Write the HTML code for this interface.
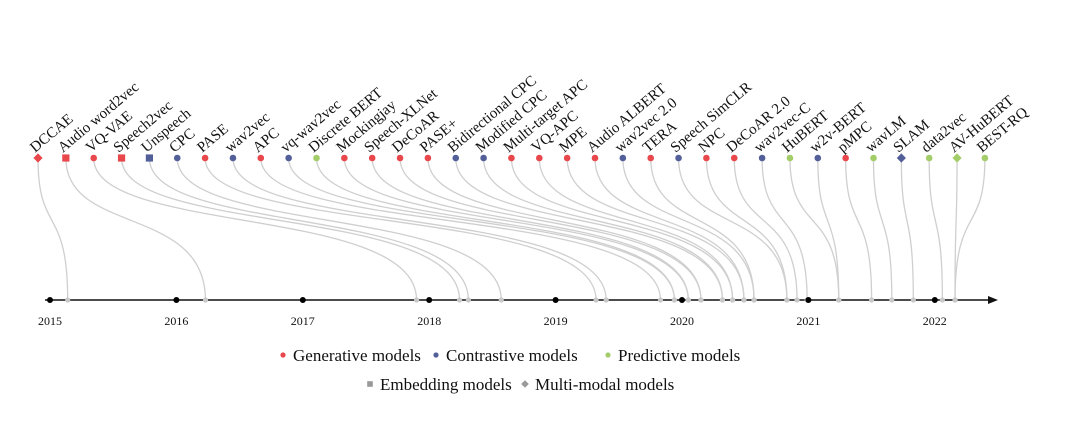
<!DOCTYPE html>
<html><head><meta charset="utf-8">
<style>
html,body{margin:0;padding:0;background:#fff;}
svg{display:block;font-family:"Liberation Serif",serif;}
</style></head>
<body>
<svg id="chart" width="1080" height="422" viewBox="0 0 1080 422" xmlns="http://www.w3.org/2000/svg">
<g id="links"></g>
<g id="axis"></g>
<g id="models"></g>
<g id="legend"></g>
</svg>
<script>
const modelNames = ["DCCAE","Audio word2vec","VQ-VAE","Speech2vec","Unspeech","CPC","PASE","wav2vec","APC","vq-wav2vec","Discrete BERT","Mockingjay","Speech-XLNet","DeCoAR","PASE+","Bidirectional CPC","Modified CPC","Multi-target APC","VQ-APC","MPE","Audio ALBERT","wav2vec 2.0","TERA","Speech SimCLR","NPC","DeCoAR 2.0","wav2vec-C","HuBERT","w2v-BERT","pMPC","wavLM","SLAM","data2vec","AV-HuBERT","BEST-RQ"];
const modelTypes = ["gen","gen","gen","gen","con","con","gen","con","gen","con","pred","gen","gen","gen","gen","con","con","gen","gen","gen","gen","con","gen","con","gen","gen","con","pred","con","gen","pred","con","pred","pred","pred"];
const modelShapes = ["diamond","square","circle","square","square","circle","circle","circle","circle","circle","circle","circle","circle","circle","circle","circle","circle","circle","circle","circle","circle","circle","circle","circle","circle","circle","circle","circle","circle","circle","circle","diamond","circle","diamond","circle"];
const modelDates = [2015.14,2016.23,2017.90,2018.24,2018.31,2018.57,2019.32,2019.40,2019.83,2019.94,2019.94,2020.05,2020.05,2020.15,2020.15,2020.32,2020.32,2020.40,2020.40,2020.49,2020.49,2020.57,2020.57,2020.83,2020.83,2020.91,2020.99,2021.24,2021.24,2021.50,2021.66,2021.83,2022.06,2022.16,2022.16];
const yearTicks = [2015,2016,2017,2018,2019,2020,2021,2022];

const NS="http://www.w3.org/2000/svg";
const colors={gen:"#e8474c",con:"#535f98",pred:"#a3cd68"};
function xTime(y){return 50+(y-2015)*126.4;}
function xSlot(i){return 38+i*27.85;}
const AXY=300, MY=158;
function mk(tag,attrs,parent){const e=document.createElementNS(NS,tag);for(const k in attrs)e.setAttribute(k,attrs[k]);parent.appendChild(e);return e;}

const links=document.getElementById('links');
const axis=document.getElementById('axis');
const models=document.getElementById('models');
const legend=document.getElementById('legend');

let al=mk('line',{x1:45,y1:AXY,x2:990,y2:AXY,stroke:"#111","stroke-width":1.4},axis);


let ah=mk('polygon',{points:"998,300 988,296 988,304",fill:"#111"},axis);



modelNames.forEach((n,i)=>{
  const x1=xSlot(i), x2=xTime(modelDates[i]);
  const p=mk('path',{d:`M${x1},${MY} C${x1},235 ${x2},205 ${x2},${AXY}`,fill:"none",stroke:"#cfcfcf","stroke-width":1.3},links);
  
  
  const d=mk('circle',{cx:x2,cy:AXY,r:2.6,fill:"#c8c8c8"},axis);
  
  
});

yearTicks.forEach(y=>{
  const x=xTime(y);
  const c=mk('circle',{cx:x,cy:AXY,r:3,fill:"#000"},axis);
  
  
  const t=mk('text',{x:x,y:325,"font-size":12,"text-anchor":"middle",fill:"#111"},axis);
  t.textContent=y;
  
  
});

function shape(type,x,y,col,parent,s){
  let e;
  if(type==="circle") e=mk('circle',{cx:x,cy:y,r:s,fill:col},parent);
  else if(type==="square") e=mk('rect',{x:x-s,y:y-s,width:2*s,height:2*s,fill:col},parent);
  else e=mk('polygon',{points:`${x},${y-s-1} ${x+s+1},${y} ${x},${y+s+1} ${x-s-1},${y}`,fill:col},parent);
  return e;
}

modelNames.forEach((n,i)=>{
  const x=xSlot(i);
  const m=shape(modelShapes[i],x,MY,colors[modelTypes[i]],models,modelShapes[i]==="circle"?3.3:3.6);
  
  
  const t=mk('text',{x:0,y:0,"font-size":15,fill:"#111",transform:`translate(${x-3},${MY-5}) rotate(-40)`},models);
  t.textContent=n;
  
  
});

const legendItems=[
 {label:"Generative models",shape:"circle",col:colors.gen,x:283,y:355},
 {label:"Contrastive models",shape:"circle",col:colors.con,x:436,y:355},
 {label:"Predictive models",shape:"circle",col:colors.pred,x:608,y:355},
 {label:"Embedding models",shape:"square",col:"#999",x:370,y:384},
 {label:"Multi-modal models",shape:"diamond",col:"#999",x:525,y:384}
];
legendItems.forEach(it=>{
  const g=mk('g',{},legend);
  
  
  shape(it.shape,it.x,it.y,it.col,g,it.shape==="circle"?2.6:2.8);
  const t=mk('text',{x:it.x+10,y:it.y+6,"font-size":17,fill:"#111"},g);
  t.textContent=it.label;
});
</script>
</body></html>
